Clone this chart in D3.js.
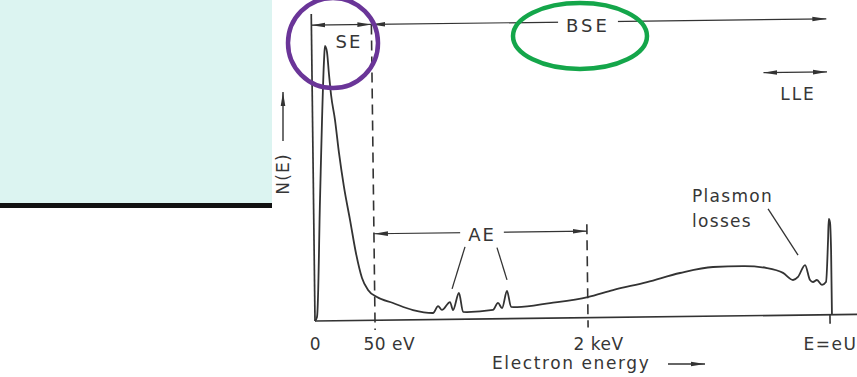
<!DOCTYPE html>
<html>
<head>
<meta charset="utf-8">
<script src="https://cdn.jsdelivr.net/npm/d3@7"></script>
<style>
  html, body { margin: 0; padding: 0; background: #fff; }
  svg { display: block; }
  text { font-family: "DejaVu Sans", sans-serif; fill: #363636; }
</style>
</head>
<body>
<div id="chart"></div>
<script>
// schematic electron energy spectrum N(E)
var energy = [0, 1.7, 5.4, 7.9, 10.2, 11.1, 12.7, 14.2, 15.7, 18.7, 21.7, 25.5, 30.2, 34.8, 39.6, 44.5,
  71, 217, 399, 582, 629, 664, 739, 765, 822, 857, 893, 1131, 1178, 1214, 1262, 1297, 1352, 1654,
  2000, 2840, 3967, 5061, 6155, 7147, 7937, 8466, 8793, 8959, 9197, 9355, 9451, 9583, 9749, 9881,
  9967, 10000, 10040, 10063, 10066];
var counts = [0, 1.4, 43.3, 72, 93.5, 98.5, 96.4, 88.1, 80.9, 72, 60.1, 47.9, 36.1, 24.2, 15.2, 10.9,
  8.3, 6.1, 3.5, 2.35, 4.8, 3.4, 6.2, 3.3, 9.4, 2.6, 2.55, 3.2, 5.7, 3.8, 9.9, 4.2, 4.1, 5.4,
  7.4, 9.8, 12.5, 15.6, 17.6, 17.8, 17.0, 15.2, 12.6, 13.7, 17.9, 12.5, 11.8, 12.5, 10.7, 11.7,
  26.8, 34.3, 33, 23.2, 0];

var tickValues = [0, 50, 2000, 10000];
var tickLabels = ["0", "50 eV", "2 keV", "E=eU"];

// energy ranges of the electron groups
var seRange = [0, 50];
var bseRange = [50, 10000];
var aeRange = [50, 2000];
var lleRange = [7900, 10000];

var W = 857, H = 377;
var ink = "#333";

var svg = d3.select("#chart").append("svg")
  .attr("width", W)
  .attr("height", H);

var defs = svg.append("defs");
defs.append("marker")
  .attr("id", "head")
  .attr("viewBox", "0 -3 14 6")
  .attr("refX", 14).attr("refY", 0)
  .attr("markerWidth", 14).attr("markerHeight", 6)
  .attr("markerUnits", "userSpaceOnUse")
  .attr("orient", "auto-start-reverse")
  .append("path")
  .attr("d", "M0,-2.3L14,0L0,2.3Z")
  .attr("fill", ink);

// slide panel on the left
svg.append("rect").attr("x", 0).attr("y", 0).attr("width", 272).attr("height", 203).attr("fill", "#dcf4f1");
svg.append("rect").attr("x", 0).attr("y", 203).attr("width", 272).attr("height", 5).attr("fill", "#111");

// piecewise scale like the original sketch (not to scale)
var x = d3.scaleLinear().domain(tickValues).range([315, 375, 588, 830]);
var y = d3.scaleLinear().domain([0, 110]).range([321, 14]);

// the scan is a little rotated
var g = svg.append("g").attr("transform", "rotate(-0.7," + x(0) + "," + y(0) + ")");

// axes
g.append("line")
  .attr("x1", x(0)).attr("x2", x(0))
  .attr("y1", y(0)).attr("y2", y(110))
  .attr("stroke", ink).attr("stroke-width", 1.7);
g.append("line")
  .attr("x1", x(0)).attr("x2", W + 10)
  .attr("y1", y(0)).attr("y2", y(0))
  .attr("stroke", ink).attr("stroke-width", 1.7);

// dashed limits
g.append("line")
  .attr("x1", x(50)).attr("x2", x(50))
  .attr("y1", y(106)).attr("y2", y(-3.5))
  .attr("stroke", ink).attr("stroke-width", 1.6)
  .attr("stroke-dasharray", "10,6");
g.append("line")
  .attr("x1", x(2000)).attr("x2", x(2000))
  .attr("y1", y(33.5)).attr("y2", y(-3.5))
  .attr("stroke", ink).attr("stroke-width", 1.6)
  .attr("stroke-dasharray", "10,6");
g.append("line")
  .attr("x1", x(10000)).attr("x2", x(10000))
  .attr("y1", y(0)).attr("y2", y(-3.2))
  .attr("stroke", ink).attr("stroke-width", 1.6);

// spectrum
var pts = energy.map(function(e, i) { return [e, counts[i]]; });
var line = d3.line()
  .x(function(d) { return x(d[0]); })
  .y(function(d) { return y(d[1]); })
  .curve(d3.curveMonotoneX);
g.append("path")
  .datum(pts)
  .attr("d", line)
  .attr("fill", "none")
  .attr("stroke", ink)
  .attr("stroke-width", 1.8)
  .attr("stroke-linejoin", "round");

// range arrows
function rangeArrow(r, level) {
  g.append("line")
    .attr("x1", x(r[0])).attr("x2", x(r[1]))
    .attr("y1", y(level)).attr("y2", y(level))
    .attr("stroke", ink).attr("stroke-width", 1.2)
    .attr("marker-start", "url(#head)")
    .attr("marker-end", "url(#head)");
}
rangeArrow(seRange, 106);
rangeArrow(bseRange, 106);
rangeArrow(aeRange, 31);
rangeArrow(lleRange, 87);

// leader lines
function leader(a, b) {
  g.append("line")
    .attr("x1", x(a[0])).attr("y1", y(a[1]))
    .attr("x2", x(b[0])).attr("y2", y(b[1]))
    .attr("stroke", ink).attr("stroke-width", 1.3);
}
leader([882, 25.9], [759, 10.9]);
leader([1175, 25.5], [1263, 13.9]);
leader([7997, 38.2], [8969, 21.5]);

// labels (drawn upright on top)
function label(txt, px, py, anchor, size, sp) {
  return svg.append("text")
    .attr("x", px).attr("y", py)
    .attr("text-anchor", anchor || "middle")
    .attr("font-size", size || 17)
    .attr("letter-spacing", sp == null ? 1.5 : sp)
    .text(txt);
}
function gapLabel(txt, px, py, size, sp) {
  var t = label(txt, px, py, "middle", size, sp);
  var b = t.node().getBBox();
  svg.insert("rect", function() { return t.node(); })
    .attr("x", b.x - 8).attr("y", b.y).attr("width", b.width + 16).attr("height", b.height)
    .attr("fill", "#fff");
}
label("SE", 349, 48, "middle", 18, 2);
gapLabel("BSE", 588, 32, 18, 3);
gapLabel("AE", 482, 241, 18, 2);
label("LLE", 798, 100, "middle", 17, 2);
label("Plasmon", 692, 202, "start", 17, 1.3);
label("losses", 692, 227, "start", 17, 1.3);

// x axis tick labels
var xAxis = d3.axisBottom(x)
  .tickValues(tickValues)
  .tickSize(0)
  .tickPadding(17)
  .tickFormat(function(d, i) { return tickLabels[i]; });
var ax = svg.append("g").attr("transform", "translate(0," + y(0) + ")").call(xAxis);
ax.select(".domain").remove();
ax.selectAll("text")
  .attr("font-size", 17)
  .attr("letter-spacing", 0.5)
  .attr("fill", ink)
  .style("font-family", '"DejaVu Sans", sans-serif')
  .attr("text-anchor", function(d) { return (d === 50 || d === 2000) ? "start" : "middle"; })
  .attr("dx", function(d) { return d === 50 ? -12 : d === 2000 ? -15 : 0; });
ax.selectAll("text").filter(function(d) { return d === 10000; })
  .attr("letter-spacing", 1.5);

label("Electron energy", 492, 369, "start", 17, 1.6);
svg.append("line")
  .attr("x1", 668).attr("x2", 705).attr("y1", 364).attr("y2", 364)
  .attr("stroke", ink).attr("stroke-width", 1.4)
  .attr("marker-end", "url(#head)");

// y axis label
svg.append("text")
  .attr("transform", "translate(289,174) rotate(-90)")
  .attr("text-anchor", "middle")
  .attr("font-size", 17)
  .attr("letter-spacing", 1.2)
  .text("N(E)");
svg.append("line")
  .attr("x1", 283).attr("x2", 283).attr("y1", 141).attr("y2", 92)
  .attr("stroke", ink).attr("stroke-width", 1.4)
  .attr("marker-end", "url(#head)");

// highlight rings
svg.append("circle")
  .attr("cx", 333).attr("cy", 43).attr("r", 45)
  .attr("fill", "none").attr("stroke", "#6a3598").attr("stroke-width", 4.5);
svg.append("ellipse")
  .attr("cx", 580).attr("cy", 36).attr("rx", 67).attr("ry", 33)
  .attr("fill", "none").attr("stroke", "#14a64a").attr("stroke-width", 4.5);
</script>
</body>
</html>
